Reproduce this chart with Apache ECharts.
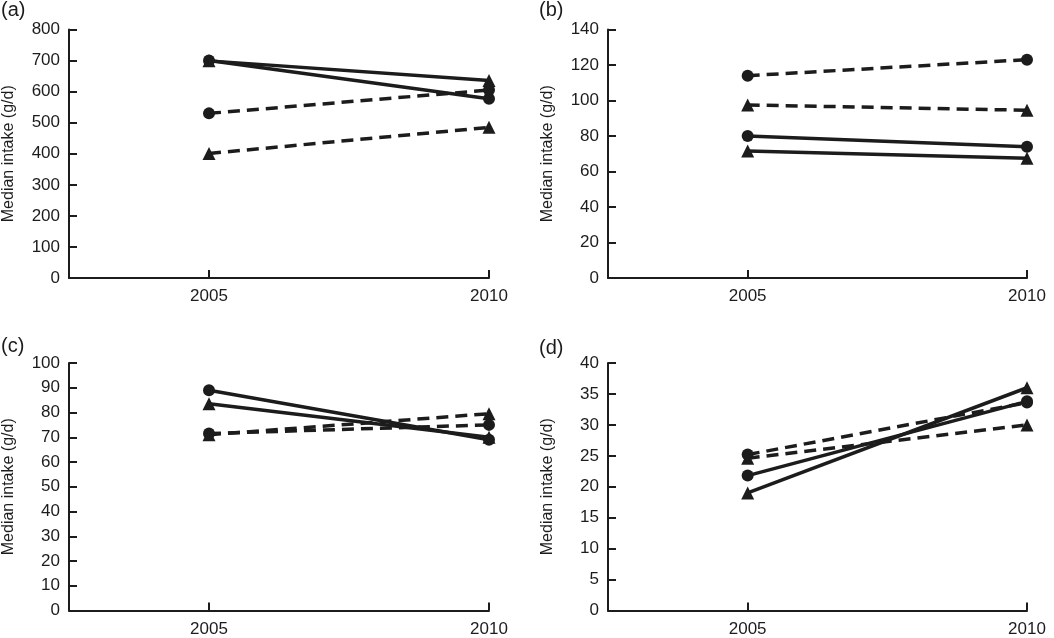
<!DOCTYPE html>
<html>
<head>
<meta charset="utf-8">
<script src="https://cdn.jsdelivr.net/npm/echarts@6/dist/echarts.min.js"></script>
<style>html,body{margin:0;padding:0;background:#fff}#c{width:1054px;height:638px}</style>
</head>
<body>
<div id="c"></div>
<script>
const years = [2005, 2010];
const panelLabels = ['(a)', '(b)', '(c)', '(d)'];
const yMax = [800, 140, 100, 40];
const yStep = [100, 20, 10, 5];
// each panel: solid circle, solid triangle, dashed circle, dashed triangle
const aSolidCircle = [700, 577];
const aSolidTriangle = [699, 636];
const aDashedCircle = [530, 605];
const aDashedTriangle = [401, 485];
const bSolidCircle = [80, 74];
const bSolidTriangle = [71.5, 67.5];
const bDashedCircle = [114, 123];
const bDashedTriangle = [97.5, 94.5];
const cSolidCircle = [89, 69];
const cSolidTriangle = [83.5, 70];
const cDashedCircle = [71.5, 75];
const cDashedTriangle = [71, 79.5];
const dSolidCircle = [21.8, 33.8];
const dSolidTriangle = [19, 36];
const dDashedCircle = [25.2, 33.6];
const dDashedTriangle = [24.6, 30];

const panels = [
  [aSolidCircle, aSolidTriangle, aDashedCircle, aDashedTriangle],
  [bSolidCircle, bSolidTriangle, bDashedCircle, bDashedTriangle],
  [cSolidCircle, cSolidTriangle, cDashedCircle, cDashedTriangle],
  [dSolidCircle, dSolidTriangle, dDashedCircle, dDashedTriangle]
];
const styles = [
  {symbol: 'circle', dash: 'solid', size: 12},
  {symbol: 'triangle', dash: 'solid', size: 13},
  {symbol: 'circle', dash: [12, 7], size: 12},
  {symbol: 'triangle', dash: [12, 7], size: 13}
];

const ink = '#1c1c1c';
const font = 'Liberation Sans, Arial, sans-serif';
const grids = [
  {left: 69, right: 565, top: 29.5, bottom: 360},
  {left: 608, right: 27, top: 29.5, bottom: 360},
  {left: 69, right: 565, top: 363, bottom: 27.5},
  {left: 608, right: 27, top: 363, bottom: 27.5}
];

const xAxis = grids.map((g, i) => ({
  type: 'value', gridIndex: i, min: 2002.5, max: 2010, interval: 2.5,
  splitLine: {show: false},
  axisLine: {lineStyle: {color: ink, width: 2}},
  axisTick: {inside: true, length: 8, lineStyle: {color: ink, width: 2}, customValues: years},
  axisLabel: {color: ink, fontSize: 17, fontFamily: font, margin: 10, customValues: years,
    formatter: v => String(v)}
}));
const yAxis = grids.map((g, i) => ({
  type: 'value', gridIndex: i, min: 0, max: yMax[i], interval: yStep[i],
  name: 'Median intake (g/d)', nameLocation: 'middle', nameGap: 52, nameRotate: 90,
  nameTextStyle: {color: ink, fontSize: 16, fontFamily: font},
  splitLine: {show: false},
  axisLine: {show: true, lineStyle: {color: ink, width: 2}},
  axisTick: {show: true, inside: true, length: 8, lineStyle: {color: ink, width: 2}},
  axisLabel: {color: ink, fontSize: 17, fontFamily: font, margin: 9}
}));

const series = [];
panels.forEach((p, i) => {
  p.forEach((vals, k) => {
    const st = styles[k];
    series.push({
      type: 'line', xAxisIndex: i, yAxisIndex: i,
      data: years.map((y, j) => [y, vals[j]]),
      symbol: st.symbol, symbolSize: st.size, showSymbol: true,
      lineStyle: {color: ink, width: 3.5, type: st.dash},
      itemStyle: {color: ink},
      animation: false
    });
  });
});

const labelPos = [[1, 0], [539, 0], [1, 336], [539, 338]];
const chart = echarts.init(document.getElementById('c'));
chart.setOption({
  backgroundColor: '#fff',
  animation: false,
  grid: grids,
  xAxis: xAxis,
  yAxis: yAxis,
  series: series,
  graphic: panelLabels.map((t, i) => ({
    type: 'text', left: labelPos[i][0], top: labelPos[i][1],
    style: {text: t, fill: ink, fontSize: 20, fontFamily: font}
  }))
});
</script>
</body>
</html>
